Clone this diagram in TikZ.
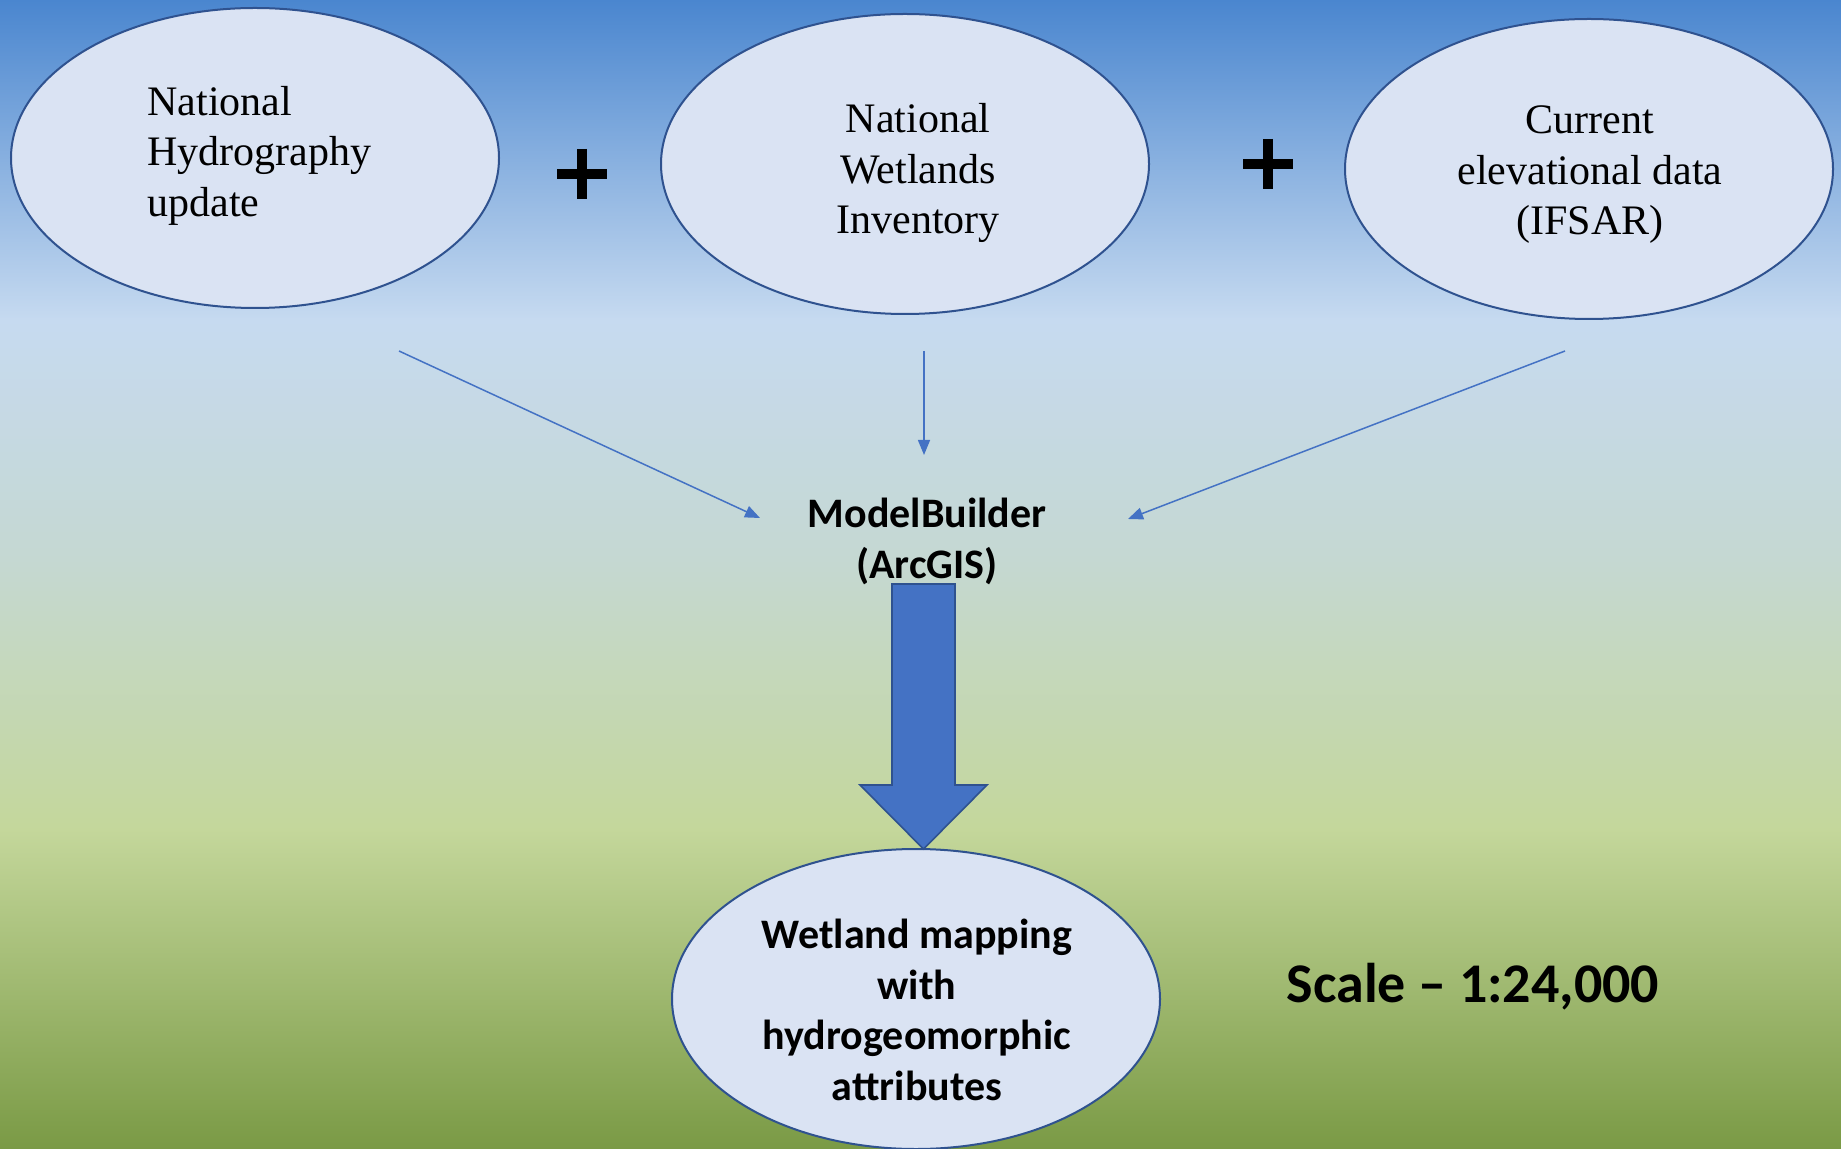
\documentclass[tikz,border=0pt]{standalone}
\usepackage{fontspec}
\setmainfont{Liberation Serif}
\newfontfamily\calib{Carlito}
\usetikzlibrary{shapes.geometric,arrows.meta}
\definecolor{bgA}{HTML}{4A86CF}
\definecolor{bgB}{HTML}{C6DAF0}
\definecolor{bgC}{HTML}{C5D8D2}
\definecolor{bgD}{HTML}{C4D79B}
\definecolor{bgE}{HTML}{7A9A45}
\definecolor{ellfill}{HTML}{DAE3F3}
\definecolor{ellline}{HTML}{2F528F}
\definecolor{accent}{HTML}{4472C4}
\tikzset{
  x=0.5pt, y=-0.5pt,
  oval/.style={ellipse, draw=ellline, fill=ellfill, line width=1pt,
    minimum width=244pt, minimum height=150pt, inner sep=0pt},
  serifText/.style={font=\fontsize{21}{25.25}\selectfont, inner sep=0pt},
  boldText/.style={font=\calib\bfseries\fontsize{21}{25.5}\selectfont, inner sep=0pt, align=center},
  thinarrow/.style={draw=accent, line width=0.75pt,
    -{Triangle[length=7.5pt,width=6pt]}, accent},
  plussign/.style={line width=4.8pt, black}
}
\begin{document}
\begin{tikzpicture}
\useasboundingbox (0,0) rectangle (1841,1149);
% background
\shade[top color=bgA, bottom color=bgB] (0,0) rectangle (1841,320);
\shade[top color=bgB, bottom color=bgC] (0,319) rectangle (1841,560);
\shade[top color=bgC, bottom color=bgD] (0,559) rectangle (1841,830);
\shade[top color=bgD, bottom color=bgE] (0,829) rectangle (1841,1149);

% ellipses
\node[oval] (nhd) at (255,158) {};
\node[oval] (nwi) at (905,164) {};
\node[oval] (elev) at (1589,169) {};
\node[oval] (out) at (916,999) {};

% texts
\node[serifText, align=left, anchor=west] (nhdt) at (147,155.5) {National\\Hydrography\\update};
\node[serifText, align=center] (nwit) at (918,173) {National\\Wetlands\\Inventory};
\node[serifText, align=center] (elevt) at (1590,175) {Current\\elevational data\\(IFSAR)};
\node[boldText] (mb) at (927,541) {ModelBuilder\\(ArcGIS)};
\node[boldText, font=\calib\bfseries\fontsize{21}{25.25}\selectfont] (outt) at (917,1010) {Wetland mapping\\with\\hydrogeomorphic\\attributes};
\node[font=\calib\bfseries\fontsize{28}{33}\selectfont, inner sep=0pt] (scale) at (1473,987) {Scale – 1:24,000};

% plus signs
\draw[plussign] (557,174) -- (607,174) (582,149) -- (582,199);
\draw[plussign] (1243,164) -- (1293,164) (1268,139) -- (1268,189);

% thin arrows
\coordinate (s1) at (399,351);
\coordinate (e1) at (760,518);
\coordinate (s2) at (924,351);
\coordinate (e2) at (924,455);
\coordinate (s3) at (1565,351);
\coordinate (e3) at (1128,519);
\draw[thinarrow] (s1) -- (e1);
\draw[thinarrow] (s2) -- (e2);
\draw[thinarrow] (s3) -- (e3);

% block arrow
\coordinate (tip) at (923.5,849);
\draw[fill=accent, draw=ellline, line width=0.8pt]
  (892,584) -- (955,584) -- (955,785) -- (987,785) -- (tip)
  -- (860,785) -- (892,785) -- cycle;
\end{tikzpicture}
\end{document}
